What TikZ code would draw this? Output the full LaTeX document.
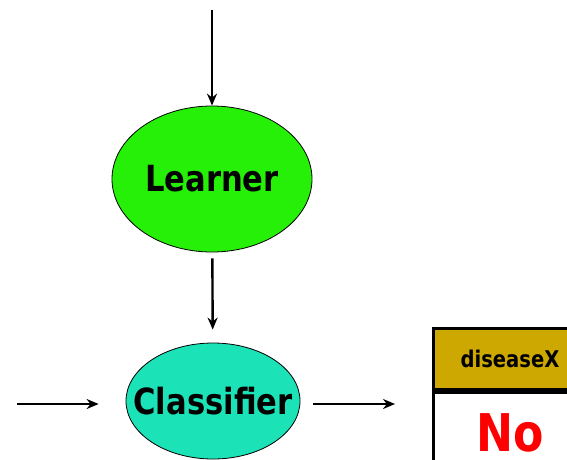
\documentclass[tikz,border=0pt]{standalone}
\usepackage{fontspec}
\setmainfont{DejaVu Sans}
\newfontfamily\boxfont[FakeStretch=0.85]{DejaVu Sans}
\usetikzlibrary{shapes.geometric, arrows.meta}
\definecolor{learnergreen}{RGB}{38,240,8}
\definecolor{classifierteal}{RGB}{28,226,184}
\definecolor{headergold}{RGB}{204,168,0}
\tikzstyle{blob} = [ellipse, draw=black, thick, inner xsep=-30pt, inner ysep=0pt, text centered, font=\boxfont\bfseries\fontsize{36}{40}\selectfont]
\tikzstyle{cell} = [rectangle, draw=black, line width=3pt, minimum width=154pt, inner sep=0pt]
\tikzstyle{arrow} = [line width=2.4pt,-{Stealth[length=12pt,width=10pt]}]

\begin{document}
\begin{tikzpicture}[x=1pt, y=-1pt]
        \useasboundingbox (0,0) rectangle (567,459);
        \node (learner) [blob, fill=learnergreen, minimum width=200pt, minimum height=146pt] at (212,179) {Learner}    ;
        \node (classifier) [blob, fill=classifierteal, minimum width=174pt, minimum height=116pt] at (213,401) {Classifier}    ;
        \node (header) [cell, fill=headergold, minimum height=61pt, font=\boxfont\bfseries\fontsize{23}{26}\selectfont] at (510,358.5) {diseaseX}    ;
        \node (answer) [cell, fill=white, minimum height=78pt, text height=40pt, text depth=0pt, anchor=north, text=red, font=\boxfont\bfseries\fontsize{52}{56}\selectfont] at (header.south) {No}    ;
        \coordinate (data) at (212,10) ;
        \coordinate (example) at (17,404) ;
        \coordinate (output) at (395,404) ;


        \draw [arrow] (data) -- (learner) ;
        \draw [arrow, shorten <=6pt, shorten >=13pt] (learner) -- (classifier) ;
        \draw [arrow, shorten >=27pt] (example) -- (classifier.west |- example) ;
        \draw [arrow, shorten <=13pt] (classifier.east |- output) -- (output) ;

    \end{tikzpicture}
\end{document}
